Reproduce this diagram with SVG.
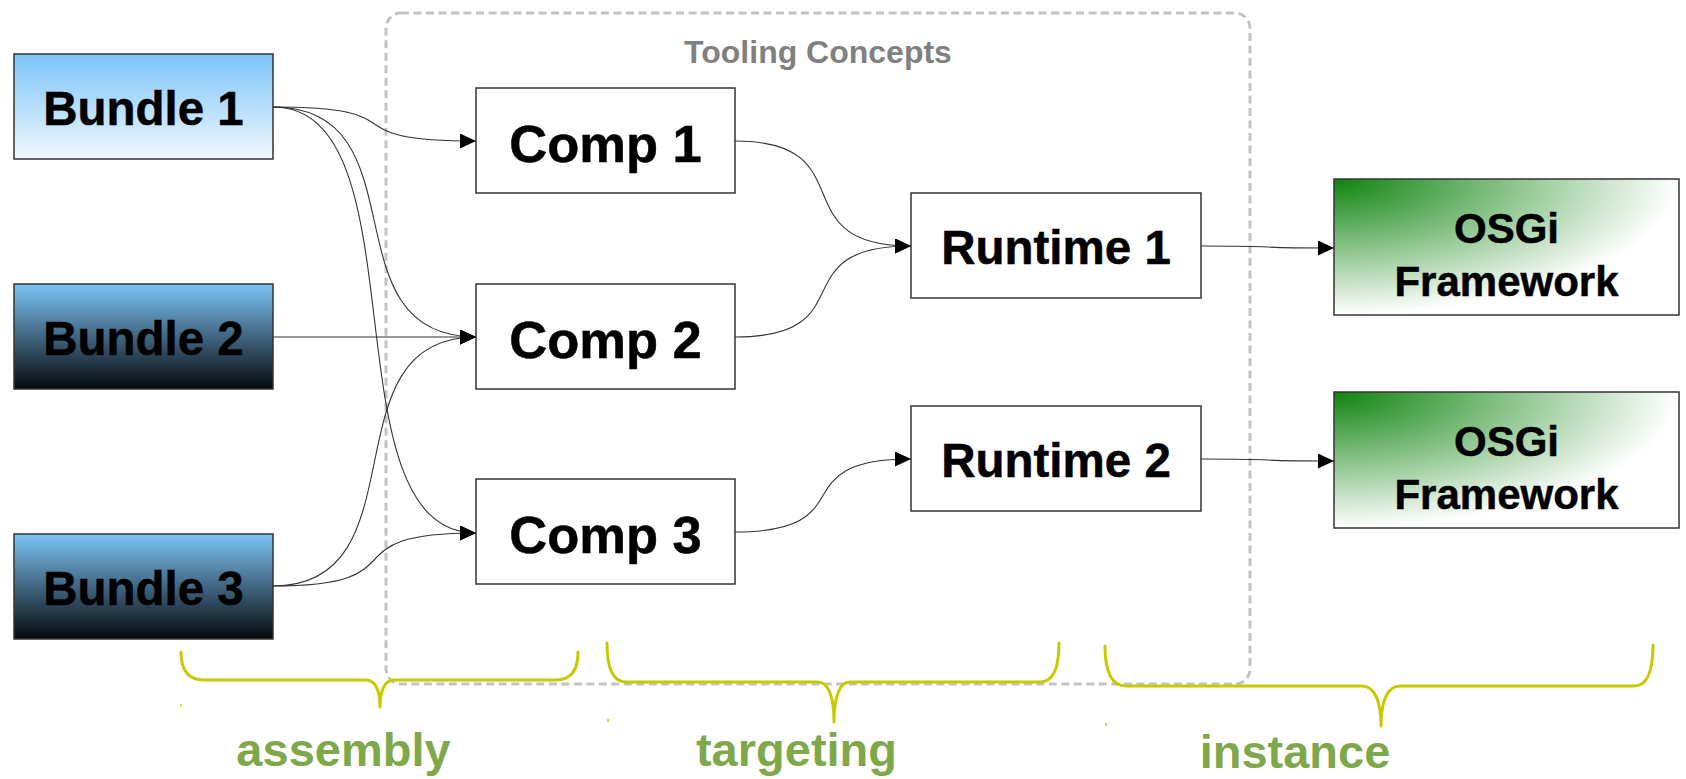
<svg xmlns="http://www.w3.org/2000/svg" width="1686" height="779" viewBox="0 0 1686 779">
  <style>
    .lbl { font-family: "Liberation Sans", Arial, sans-serif; font-weight: bold; text-anchor: middle; fill: #000; stroke: #000; stroke-width: 0.5; }
    .box { stroke: #333; stroke-width: 1.5; }
    .conn { fill: none; stroke: #333; stroke-width: 1.1; marker-end: url(#arr); }
    .brace { fill: none; stroke: #c9c900; stroke-width: 3; stroke-linecap: round; stroke-linejoin: round; }
    .phase { font-family: "Liberation Sans", Arial, sans-serif; font-weight: bold; font-size: 47px; text-anchor: middle; fill: #7fa84a; }
  </style>
  <defs>
    <linearGradient id="gLight" x1="0" y1="0" x2="0" y2="1">
      <stop offset="0" stop-color="#7cc4f8"/>
      <stop offset="1" stop-color="#f0f8ff"/>
    </linearGradient>
    <linearGradient id="gDark" x1="0" y1="0" x2="0" y2="1">
      <stop offset="0" stop-color="#7cc4f6"/>
      <stop offset="1" stop-color="#06080c"/>
    </linearGradient>
    <radialGradient id="gGreen" cx="0" cy="0" r="1" fx="0" fy="0">
      <stop offset="0" stop-color="#0f840f"/>
      <stop offset="1" stop-color="#ffffff"/>
    </radialGradient>
    <marker id="arr" markerUnits="userSpaceOnUse" markerWidth="17" markerHeight="16" refX="16" refY="7.5" orient="auto">
      <path d="M0,0 L16,7.5 L0,15 Z" fill="#000"/>
    </marker>
  </defs>
  <rect width="1686" height="779" fill="#fff"/>

  <g id="tooling-concepts">
    <rect x="386" y="13" width="864" height="671" rx="15" ry="15" fill="none" stroke="#c3c3c3" stroke-width="3" stroke-dasharray="8 4.5"/>
    <text x="818" y="63" font-family="Liberation Sans, Arial, sans-serif" font-weight="bold" font-size="32" text-anchor="middle" fill="#808080">Tooling Concepts</text>
  </g>

  <g id="connectors">
    <path class="conn" d="M273,107 C425,107 324,141 476,141"/>
    <path class="conn" d="M273,107 C425,107 324,337 476,337"/>
    <path class="conn" d="M273,107 C425,107 324,533 476,533"/>
    <path class="conn" d="M273,337 L476,337"/>
    <path class="conn" d="M273,586 C425,586 324,337 476,337"/>
    <path class="conn" d="M273,586 C425,586 324,533 476,533"/>
    <path class="conn" d="M735,141 C867,141 779,246 911,246"/>
    <path class="conn" d="M735,337 C867,337 779,246 911,246"/>
    <path class="conn" d="M735,532 C867,532 779,459 911,459"/>
    <path class="conn" d="M1201,246 C1300,246 1235,248 1334,248"/>
    <path class="conn" d="M1201,459 C1300,459 1235,461 1334,461"/>
  </g>

  <g id="bundle1">
    <rect class="box" x="14" y="54" width="259" height="105" fill="url(#gLight)"/>
    <text class="lbl" x="143.5" y="125" font-size="47.5">Bundle 1</text>
  </g>
  <g id="bundle2">
    <rect class="box" x="14" y="284" width="259" height="105" fill="url(#gDark)"/>
    <text class="lbl" x="143.5" y="355" font-size="47.5">Bundle 2</text>
  </g>
  <g id="bundle3">
    <rect class="box" x="14" y="534" width="259" height="105" fill="url(#gDark)"/>
    <text class="lbl" x="143.5" y="605" font-size="47.5">Bundle 3</text>
  </g>

  <g id="comp1">
    <rect class="box" x="476" y="88" width="259" height="105" fill="#fff"/>
    <text class="lbl" x="605.5" y="162" font-size="52.5">Comp 1</text>
  </g>
  <g id="comp2">
    <rect class="box" x="476" y="284" width="259" height="105" fill="#fff"/>
    <text class="lbl" x="605.5" y="358" font-size="52.5">Comp 2</text>
  </g>
  <g id="comp3">
    <rect class="box" x="476" y="479" width="259" height="105" fill="#fff"/>
    <text class="lbl" x="605.5" y="553" font-size="52.5">Comp 3</text>
  </g>

  <g id="runtime1">
    <rect class="box" x="911" y="193" width="290" height="105" fill="#fff"/>
    <text class="lbl" x="1056" y="264" font-size="47.5">Runtime 1</text>
  </g>
  <g id="runtime2">
    <rect class="box" x="911" y="406" width="290" height="105" fill="#fff"/>
    <text class="lbl" x="1056" y="477" font-size="47.5">Runtime 2</text>
  </g>

  <g id="osgi1">
    <rect class="box" x="1334" y="179" width="345" height="136" fill="url(#gGreen)"/>
    <text class="lbl" x="1506.5" y="243" font-size="42">OSGi</text>
    <text class="lbl" x="1506.5" y="296" font-size="42">Framework</text>
  </g>
  <g id="osgi2">
    <rect class="box" x="1334" y="392" width="345" height="136" fill="url(#gGreen)"/>
    <text class="lbl" x="1506.5" y="456" font-size="42">OSGi</text>
    <text class="lbl" x="1506.5" y="509" font-size="42">Framework</text>
  </g>

  <g id="brace-assembly">
    <path class="brace" d="M181,652 C181,670 188,680 204,680 L366,680 C375,680 380,690 380,707 C380,690 385,680 394,680 L556,680 C571,680 578,670 578,652"/>
    <line x1="181" y1="704" x2="181" y2="707" stroke="#c9c900" stroke-width="1.5"/>
    <text class="phase" x="343.5" y="766">assembly</text>
  </g>
  <g id="brace-targeting">
    <path class="brace" d="M607,643 C607,668 613,682 626,682 L818,682 C828,682 834,696 834,722 C834,696 840,682 850,682 L1040,682 C1053,682 1059,668 1059,643"/>
    <line x1="608" y1="719" x2="608" y2="722" stroke="#c9c900" stroke-width="1.5"/>
    <text class="phase" x="796.5" y="766">targeting</text>
  </g>
  <g id="brace-instance">
    <path class="brace" d="M1105,646 C1105,672 1112,686 1126,686 L1362,686 C1374,686 1381,700 1381,726 C1381,700 1388,686 1400,686 L1634,686 C1647,686 1653,672 1653,645"/>
    <line x1="1106" y1="723" x2="1106" y2="726" stroke="#c9c900" stroke-width="1.5"/>
    <text class="phase" x="1295" y="768">instance</text>
  </g>
</svg>
